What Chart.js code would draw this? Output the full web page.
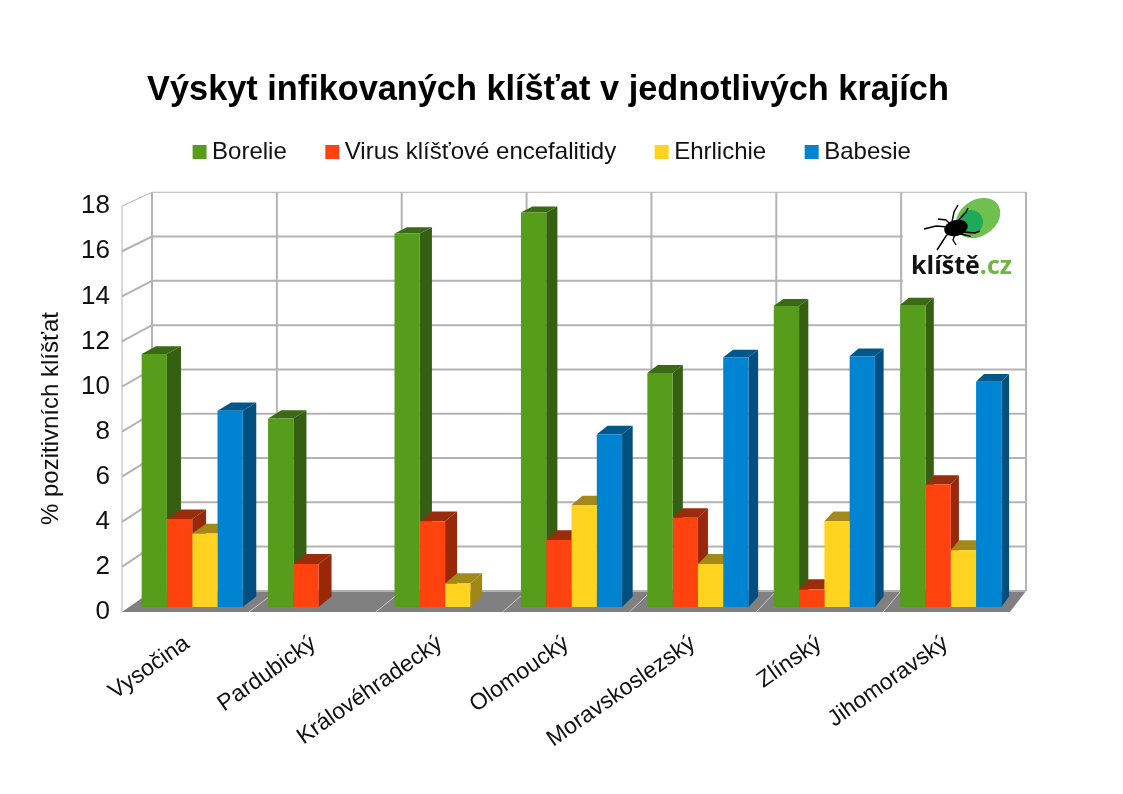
<!DOCTYPE html>
<html>
<head>
<meta charset="utf-8">
<title>Výskyt infikovaných klíšťat</title>
<script src="https://cdn.jsdelivr.net/npm/chart.js@4"></script>
<style>
  html, body { margin: 0; padding: 0; background: #fff; }
  canvas { display: block; }
</style>
</head>
<body>
<canvas id="chart" width="1123" height="794"></canvas>
<script>
// Data
const regions = ['Vysočina', 'Pardubický', 'Královéhradecký', 'Olomoucký', 'Moravskoslezský', 'Zlínský', 'Jihomoravský'];
const borelie = [11.35, 8.45, 16.75, 17.7, 10.5, 13.5, 13.55];
const virus = [3.95, 1.93, 3.85, 3.0, 4.0, 0.78, 5.5];
const ehrlichie = [3.3, null, 1.05, 4.57, 1.93, 3.85, 2.55];
const babesie = [8.8, null, null, 7.75, 11.2, 11.25, 10.1];
const yAxisTitle = '% pozitivních klíšťat';

const FONT = '"Liberation Sans", Arial, sans-serif';

// side and top faces are darker versions of the front colour
const colors = {
  borelie: { front: '#579d1c', side: '#356012', top: '#3b6a14' },
  virus: { front: '#ff420e', side: '#992808', top: '#992c0b' },
  ehrlichie: { front: '#ffd320', side: '#a08614', top: '#a3891a' },
  babesie: { front: '#0084d1', side: '#004f7f', top: '#00578a' },
};

// back wall is smaller than the front plane, so map front -> back
const backX = x => 152 + (x - 122) * (874 / 888);
const backY = y => 591.4 + (y - 612.5) * (22.15 / 22.55);
const depthAt = x => 30 - 0.0158 * (x - 122);
// bar depth shrinks toward the right and toward the top (perspective)
const liftAt = y => 6 + (y - 212) * 0.0115;

function poly(ctx, pts, fill) {
  ctx.beginPath();
  pts.forEach((p, i) => i ? ctx.lineTo(p[0], p[1]) : ctx.moveTo(p[0], p[1]));
  ctx.closePath();
  ctx.fillStyle = fill;
  ctx.fill();
}

function drawLogo(ctx) {
  ctx.save();
  ctx.fillStyle = '#fff';
  ctx.fillRect(903, 194, 122, 106);

  ctx.fillStyle = '#6fc04f';
  ctx.beginPath();
  ctx.ellipse(978, 218, 24, 18, -0.6, 0, Math.PI * 2);
  ctx.fill();
  ctx.fillStyle = '#1fa958';
  ctx.beginPath();
  ctx.arc(971, 222, 12, 0, Math.PI * 2);
  ctx.fill();

  ctx.fillStyle = '#000';
  ctx.beginPath();
  ctx.ellipse(956, 228, 12, 8, -0.25, 0, Math.PI * 2);
  ctx.fill();
  ctx.strokeStyle = '#000';
  ctx.lineWidth = 1.4;
  const legs = [
    [[950, 224], [946, 220], [938, 219]],
    [[948, 227], [936, 226], [924, 229]],
    [[950, 232], [946, 236], [937, 250]],
    [[955, 234], [953, 240], [956, 245]],
    [[952, 222], [954, 212], [958, 205]],
    [[958, 221], [966, 212], [968, 208]],
    [[964, 232], [975, 233], [980, 231]],
    [[960, 234], [970, 236], [970, 237]],
  ];
  legs.forEach(l => {
    ctx.beginPath();
    ctx.moveTo(l[0][0], l[0][1]);
    ctx.lineTo(l[1][0], l[1][1]);
    ctx.lineTo(l[2][0], l[2][1]);
    ctx.stroke();
  });

  ctx.textAlign = 'left';
  ctx.textBaseline = 'alphabetic';
  ctx.font = 'bold 25px "Open Sans"';
  ctx.fillStyle = '#111';
  ctx.fillText('klíště', 911, 274);
  const w = ctx.measureText('klíště').width;
  ctx.fillStyle = '#6fb544';
  ctx.fillText('.cz', 911 + w, 274);
  ctx.restore();
}

// side and top faces of every bar, left to right so that the next bar covers them
function drawBarFaces(chart) {
  const { ctx } = chart;
  chart.data.datasets.forEach((ds, d) => {
    chart.getDatasetMeta(d).data.forEach((bar, i) => {
      if (ds.data[i] === null) return;
      const { x, y, base, width } = bar.getProps(['x', 'y', 'base', 'width'], true);
      const l = x - width / 2, r = x + width / 2;
      const dxL = depthAt(l) * 0.48, dxR = depthAt(r) * 0.48;
      const dyTop = liftAt(y), dyBase = liftAt(base);
      poly(ctx, [[r, y], [r + dxR, y - dyTop], [r + dxR, base - dyBase], [r, base]], ds.sideColor);
      poly(ctx, [[l, y], [r, y], [r + dxR, y - dyTop], [l + dxL, y - dyTop]], ds.topColor);
    });
  });
}

// fake 3D box: floor, back wall, left wall
const wallsPlugin = {
  id: 'walls',
  afterLayout(chart) {
    const t = chart.titleBlock;
    t.left = 0; t.right = 1096; t.top = 70; t.bottom = 120;
    const l = chart.legend;
    l.left = 0; l.right = 1110; l.top = 95; l.bottom = 200;
  },
  beforeDatasetsDraw(chart) {
    const { ctx, scales: { y } } = chart;
    const frontL = 122, frontR = 1010;
    const zeroF = y.getPixelForValue(0), topF = y.getPixelForValue(18);

    ctx.save();
    // floor
    poly(ctx, [[frontL, zeroF], [frontR, zeroF], [backX(frontR), backY(zeroF)], [backX(frontL), backY(zeroF)]], '#808080');

    ctx.strokeStyle = '#b3b3b3';
    // left front edge
    ctx.lineWidth = 1;
    ctx.beginPath();
    ctx.moveTo(frontL, topF);
    ctx.lineTo(frontL, zeroF);
    ctx.stroke();

    // horizontal grid on side wall and back wall
    y.ticks.forEach(t => {
      const fy = y.getPixelForValue(t.value);
      const by = backY(fy);
      ctx.lineWidth = t.value === 18 ? 1 : 2;
      ctx.beginPath();
      if (t.value > 0) {
        ctx.moveTo(frontL, fy);
        ctx.lineTo(backX(frontL), by);
      } else {
        ctx.moveTo(backX(frontL), by);
      }
      ctx.lineTo(backX(frontR), by);
      ctx.stroke();
    });

    // vertical grid on back wall, separators on floor
    const n = regions.length;
    for (let i = 0; i <= n; i++) {
      const fx = frontL + (frontR - frontL) * i / n;
      const bx = backX(fx);
      ctx.lineWidth = 2;
      ctx.strokeStyle = '#b3b3b3';
      ctx.beginPath();
      ctx.moveTo(bx, backY(topF));
      ctx.lineTo(bx, backY(zeroF));
      ctx.stroke();
      if (i > 0 && i < n) {
        ctx.lineWidth = 1;
        ctx.strokeStyle = '#c8c8c8';
        ctx.beginPath();
        ctx.moveTo(fx, zeroF);
        ctx.lineTo(bx, backY(zeroF));
        ctx.stroke();
      }
    }
    ctx.restore();
    drawLogo(ctx);
    drawBarFaces(chart);
  },
  // axis title sits lower than the middle of the scale
  afterDraw(chart) {
    const { ctx } = chart;
    ctx.save();
    ctx.translate(51, 418.5);
    ctx.rotate(-Math.PI / 2);
    ctx.font = '24px ' + FONT;
    ctx.fillStyle = '#111';
    ctx.textAlign = 'center';
    ctx.textBaseline = 'middle';
    ctx.fillText(yAxisTitle, 0, 0);
    ctx.restore();
  },
};

function makeDataset(label, data, c) {
  return {
    label, data,
    yAxisID: 'yBars',
    backgroundColor: c.front,
    sideColor: c.side,
    topColor: c.top,
    borderWidth: 0,
    clip: false,
    categoryPercentage: 0.8,
    barPercentage: 1,
  };
}

new Chart(document.getElementById('chart').getContext('2d'), {
  type: 'bar',
  data: {
    labels: regions,
    datasets: [
      makeDataset('Borelie', borelie, colors.borelie),
      makeDataset('Virus klíšťové encefalitidy', virus, colors.virus),
      makeDataset('Ehrlichie', ehrlichie, colors.ehrlichie),
      makeDataset('Babesie', babesie, colors.babesie),
    ],
  },
  plugins: [wallsPlugin],
  options: {
    responsive: false,
    animation: false,
    layout: { padding: { top: 86, right: 109, left: 0, bottom: 0 } },
    plugins: {
      tooltip: { enabled: false },
      title: {
        display: true,
        text: 'Výskyt infikovaných klíšťat v jednotlivých krajích',
        color: '#000',
        font: { family: FONT, size: 34.3, weight: 'bold' },
        padding: 0,
      },
      legend: {
        position: 'top',
        labels: {
          color: '#111',
          font: { family: FONT, size: 24 },
          usePointStyle: true,
          pointStyle: 'rect',
          boxWidth: 1,
          boxHeight: 14,
          padding: 45,
        },
      },
    },
    scales: {
      x: {
        grid: { display: false },
        border: { display: false },
        afterFit(scale) { scale.height = 182; },
        ticks: {
          color: '#111',
          font: { family: FONT, size: 23 },
          minRotation: 35,
          maxRotation: 35,
          autoSkip: false,
          padding: 10,
          labelOffset: -5,
        },
      },
      y: {
        min: 0,
        max: 18,
        grid: { display: false },
        border: { display: false },
        afterFit(scale) { scale.width = 129; },
        ticks: {
          stepSize: 2,
          color: '#111',
          font: { family: FONT, size: 26 },
          padding: 11,
        },
      },
      // bars stand a little behind the front edge, so their zero is higher up
      yBars: {
        display: false,
        min: -0.224,
        max: 17.98,
      },
    },
  },
});
</script>
</body>
</html>
